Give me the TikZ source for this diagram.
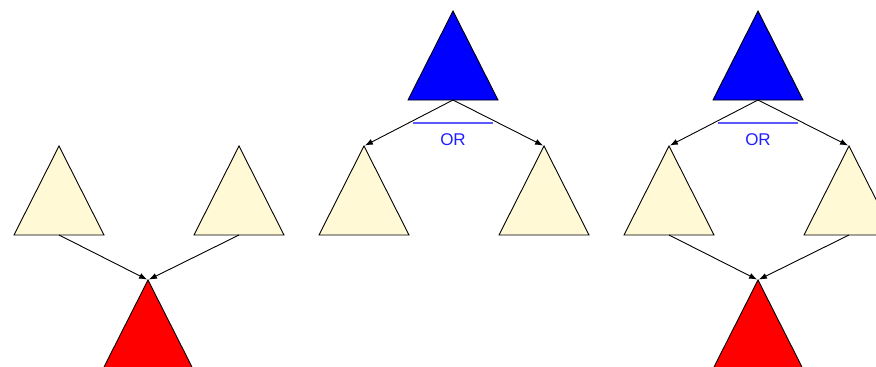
\documentclass[tikz,border=0pt]{standalone}
\usepackage{fontspec}
\setmainfont{Liberation Sans}
\usetikzlibrary{arrows.meta}
\definecolor{leafyellow}{RGB}{255, 249, 214}
\definecolor{rootblue}{RGB}{0, 0, 255}
\definecolor{sinkred}{RGB}{255, 0, 0}
\definecolor{orline}{RGB}{90, 90, 255}
\definecolor{ortext}{RGB}{30, 30, 255}

% triangle with apex at (#2,#3): name, x, y, fill colour
\newcommand{\tri}[4]{%
  \coordinate (#1-top) at (#2, #3);
  \coordinate (#1-bot) at (#2, #3+\trih);
  \filldraw[tribox, fill=#4] (#2, #3) -- ++(\trihw, \trih) -- ++(-2*\trihw, 0) -- cycle;
}

\begin{document}
\begin{tikzpicture}[x=1pt, y=-1pt,
    tribox/.style={draw=black, line width=0.9pt, line join=miter},
    link/.style={-{Latex[length=8pt, width=6pt]}, line width=0.9pt, shorten >=1pt},
    orlabel/.style={text=ortext, font=\fontsize{17}{20}\selectfont, inner sep=0pt}]
  \def\trihw{45}
  \def\trih{89}
  \useasboundingbox (0,0) rectangle (876,367);

  % left panel: two leaves into a sink
  \tri{aL}{59}{146}{leafyellow}
  \tri{aR}{239}{146}{leafyellow}
  \tri{aS}{148}{280}{sinkred}
  \draw[link] (aL-bot) -- (aS-top);
  \draw[link] (aR-bot) -- (aS-top);

  % middle panel: root splits into two leaves
  \tri{bT}{453}{11}{rootblue}
  \tri{bL}{364}{146}{leafyellow}
  \tri{bR}{544}{146}{leafyellow}
  \draw[link] (bT-bot) -- (bL-top);
  \draw[link] (bT-bot) -- (bR-top);
  \draw[orline, line width=1.3pt] (413,123) -- (493,123);
  \node[orlabel] (bOr) at (453,140) {OR};

  % right panel: root, two leaves, sink
  \tri{cT}{758}{11}{rootblue}
  \tri{cL}{669}{146}{leafyellow}
  \tri{cR}{849}{146}{leafyellow}
  \tri{cS}{758}{280}{sinkred}
  \draw[link] (cT-bot) -- (cL-top);
  \draw[link] (cT-bot) -- (cR-top);
  \draw[link] (cL-bot) -- (cS-top);
  \draw[link] (cR-bot) -- (cS-top);
  \draw[orline, line width=1.3pt] (718,123) -- (798,123);
  \node[orlabel] (cOr) at (758,140) {OR};
\end{tikzpicture}
\end{document}
